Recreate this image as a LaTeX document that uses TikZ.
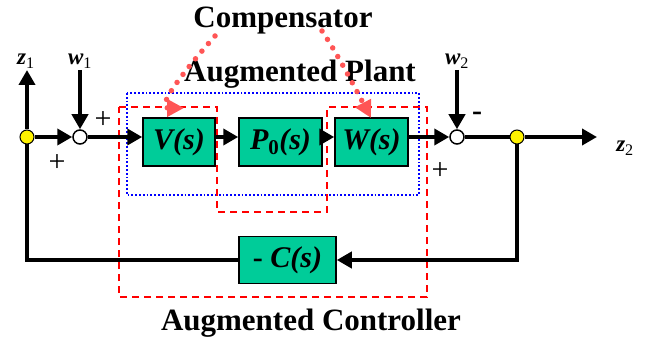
\documentclass[tikz,border=0pt]{standalone}
\usepackage{fontspec}
\setmainfont{Liberation Serif}
\usetikzlibrary{arrows.meta}

\definecolor{bloccoverde}{RGB}{0,204,153}
\definecolor{rossochiaro}{RGB}{255,85,85}

\begin{document}
\begin{tikzpicture}[x=1pt,y=-1pt]
    % Stili
    \tikzset{
        block/.style={rectangle, draw=black, fill=bloccoverde, line width=1.5pt, minimum width=72pt, minimum height=48pt, inner sep=0pt, font=\fontsize{30}{32}\selectfont\bfseries\itshape},
        sum/.style={circle, draw, fill=white, line width=1.5pt, minimum size=14pt, inner sep=0pt},
        junction/.style={circle, draw, fill=yellow, line width=1pt, minimum size=14pt, inner sep=0pt},
        wire/.style={line width=4.8pt},
        arrow/.style={wire, -{Triangle[length=15pt,width=16pt]}},
        signal/.style={font=\fontsize{23}{25}\selectfont\bfseries\itshape, anchor=base},
        title/.style={font=\fontsize{31}{33}\selectfont\bfseries, anchor=base},
        segno/.style={font=\fontsize{30}{32}\selectfont},
        plantbox/.style={draw=blue, dotted, line width=1.8pt},
        ctrlbox/.style={draw=red, dash pattern=on 7pt off 5pt, line width=1.5pt},
        link/.style={draw=rossochiaro, line width=5.5pt, line cap=round, dash pattern=on 0pt off 10pt, -{Triangle[length=17pt,width=17pt,fill=rossochiaro]}}
    }
    \useasboundingbox (0,0) rectangle (658,339);

    % Riquadri tratteggiati
    \draw[plantbox] (127,93) rectangle (419,195);
    \draw[ctrlbox] (119,107) -- (217,107) -- (217,212) -- (327,212) -- (327,107) -- (427,107) -- (427,297) -- (119,297) -- cycle;

    % Blocchi
    \node[block] (V) at (179,142) {V(s)};
    \node[block, minimum width=83pt] (P0) at (280.5,142) {P\textsubscript{\upshape 0}(s)};
    \node[block, minimum width=73pt] (W) at (371.5,142) {W(s)};
    \node[block, minimum width=97pt, minimum height=47pt] (C) at (287.5,260) {{\upshape -} C(s)};

    % Nodi di somma e diramazione
    \node[junction] (y1) at (27,137) {};
    \node[sum] (sum1) at (80,137) {};
    \node[sum] (sum2) at (457,137) {};
    \node[junction] (y2) at (517,137) {};
    \coordinate (z1tip) at (27,70);
    \coordinate (w1top) at (80,70);
    \coordinate (w2top) at (457,70);
    \coordinate (z2tip) at (597,137);

    % Segnali
    \node[signal] (z1) at (26,65) {z\textsubscript{\upshape\mdseries 1}};
    \node[signal] (w1) at (80,65) {w\textsubscript{\upshape\mdseries 1}};
    \node[signal] (w2) at (457,65) {w\textsubscript{\upshape\mdseries 2}};
    \node[signal] (z2) at (625,152) {z\textsubscript{\upshape\mdseries 2}};
    \node[segno] (p1) at (103,120) {+};
    \node[segno] (p2) at (57,163) {+};
    \node[segno] (p3) at (440,171) {+};
    \node[segno] (m2) at (477,116) {\bfseries -};

    % Frecce
    \draw[arrow] (y1) -- (sum1);
    \draw[arrow] (y1) -- (z1tip);
    \draw[arrow] (w1top) -- (sum1);
    \draw[arrow] (sum1) -- (sum1 -| V.west);
    \draw[arrow] (V.east |- sum1) -- (P0.west |- sum1);
    \draw[arrow] (P0.east |- sum1) -- (W.west |- sum1);
    \draw[arrow] (W.east |- sum2) -- (sum2);
    \draw[arrow] (w2top) -- (sum2);
    \draw[wire] (sum2) -- (y2);
    \draw[arrow] (y2) -- (z2tip);
    \draw[arrow] (y2) |- (C.east);
    \draw[wire] (C.west) -| (y1);

    % Titoli
    \node[title] (comp) at (283,28) {Compensator};
    \node[title] (aplant) at (300,82) {Augmented Plant};
    \node[title] (actrl) at (311,330) {Augmented Controller};

    % Collegamenti del compensatore
    \coordinate (c1) at (215,36);
    \coordinate (c2) at (322,31);
    \coordinate (vtip) at (184,108);
    \coordinate (wtip) at (371,118);
    \draw[link] (c1) .. controls (185,70) and (155,108) .. (vtip);
    \draw[link] (c2) .. controls (335,50) and (352,82) .. (wtip);
\end{tikzpicture}
\end{document}
